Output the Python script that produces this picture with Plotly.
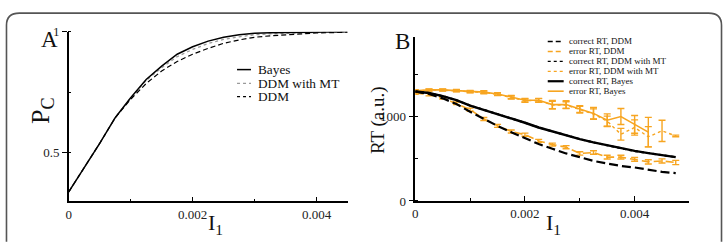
import plotly.graph_objects as go

W, H = 725, 244
FONT = "Liberation Serif"
ORANGE = "#F7A520"

# ---------------- Panel A data ----------------
a_x = [0, 0.00025, 0.0005, 0.00075, 0.001, 0.00125, 0.0015, 0.00175, 0.002, 0.00225,
       0.0025, 0.00275, 0.003, 0.00325, 0.0035, 0.00375, 0.004, 0.00425, 0.0045]
a_bayes = [0.339, 0.437, 0.539, 0.645, 0.727, 0.803, 0.858, 0.907, 0.938, 0.961,
           0.977, 0.987, 0.994, 0.996, 0.997, 0.998, 0.999, 1.000, 1.000]
a_ddm_mt = [0.339, 0.437, 0.539, 0.645, 0.726, 0.799, 0.851, 0.897, 0.927, 0.951,
            0.968, 0.979, 0.987, 0.991, 0.994, 0.996, 0.997, 0.998, 0.999]
a_ddm = [0.339, 0.437, 0.539, 0.645, 0.721, 0.786, 0.838, 0.877, 0.907, 0.931,
         0.952, 0.966, 0.977, 0.983, 0.988, 0.992, 0.995, 0.996, 0.998]
a_names = ["Bayes", "DDM with MT", "DDM"]

# ---------------- Panel B data ----------------
b_x = [0, 0.00025, 0.0005, 0.00075, 0.001, 0.00125, 0.0015, 0.00175, 0.002, 0.00225,
       0.0025, 0.00275, 0.003, 0.00325, 0.0035, 0.00375, 0.004, 0.00425, 0.0045, 0.00475]
b_correct_ddm = [1296, 1267, 1215, 1148, 1056, 970, 889, 815, 741, 674,
                 619, 563, 519, 474, 444, 415, 397, 367, 344, 330]
b_error_ddm = [1278, 1259, 1222, 1156, 1081, 970, 889, 822, 785, 711,
               667, 637, 563, 574, 519, 519, 493, 463, 474, 456]
b_error_ddm_err = [15, 15, 15, 15, 18, 18, 18, 18, 18, 18,
                   18, 18, 20, 20, 22, 22, 22, 25, 25, 25]
b_correct_ddm_mt = [1296, 1278, 1241, 1193, 1130, 1081, 1030, 981, 926, 870,
                    822, 778, 733, 693, 659, 622, 590, 567, 544, 519]
b_error_ddm_mt = [1300, 1312, 1312, 1305, 1294, 1285, 1262, 1225, 1188, 1190,
                  1135, 1135, 1080, 1030, 944, 790, 870, 760, 830, 770]
b_error_ddm_mt_err = [12, 12, 12, 12, 12, 15, 15, 18, 20, 22,
                      45, 40, 40, 60, 60, 70, 90, 120, 125, 10]
b_correct_bayes = [1296, 1278, 1241, 1193, 1130, 1081, 1030, 981, 926, 870,
                   822, 778, 733, 693, 659, 622, 593, 567, 544, 519]
b_error_bayes_x = b_x[:18]
b_error_bayes = [1304, 1315, 1315, 1307, 1296, 1289, 1267, 1230, 1193, 1193,
                 1141, 1141, 1089, 1037, 956, 1000, 907, 815]
b_error_bayes_err = [12, 12, 12, 12, 12, 15, 15, 18, 20, 22,
                     50, 45, 40, 70, 75, 95, 105, 175]
b_names = ["correct RT, DDM", "error RT, DDM", "correct RT, DDM with MT",
           "error RT, DDM with MT", "correct RT, Bayes", "error RT, Bayes"]

a_xticks = [0, 0.002, 0.004]
a_xticklabels = ["0", "0.002", "0.004"]
a_yticks = [0.5, 1]
a_yticklabels = ["0.5", "1"]
b_yticks = [0, 1000]
b_yticklabels = ["0", "1000"]


def px(p):
    return p / W


def py(p):
    return 1 - p / H


fig = go.Figure()

# Panel A traces
fig.add_trace(go.Scatter(x=a_x, y=a_ddm_mt, mode="lines", name=a_names[1],
                         line=dict(color="#9a9a9a", width=1.3, dash="dot"),
                         xaxis="x", yaxis="y"))
fig.add_trace(go.Scatter(x=a_x, y=a_ddm, mode="lines", name=a_names[2],
                         line=dict(color="black", width=1.2, dash="5px,3px"),
                         xaxis="x", yaxis="y"))
fig.add_trace(go.Scatter(x=a_x, y=a_bayes, mode="lines", name=a_names[0],
                         line=dict(color="black", width=1.5),
                         xaxis="x", yaxis="y"))

# Panel B traces
eb = dict(type="data", thickness=1.4, width=3.5, color=ORANGE)
fig.add_trace(go.Scatter(x=b_x, y=b_error_ddm_mt, mode="lines", name=b_names[3],
                         line=dict(color=ORANGE, width=1.4, dash="dot"),
                         error_y=dict(array=b_error_ddm_mt_err, **eb),
                         xaxis="x2", yaxis="y2"))
fig.add_trace(go.Scatter(x=b_error_bayes_x, y=b_error_bayes, mode="lines", name=b_names[5],
                         line=dict(color=ORANGE, width=1.6),
                         error_y=dict(array=b_error_bayes_err, **eb),
                         xaxis="x2", yaxis="y2"))
fig.add_trace(go.Scatter(x=b_x, y=b_error_ddm, mode="lines", name=b_names[1],
                         line=dict(color=ORANGE, width=1.6, dash="8px,4px"),
                         error_y=dict(array=b_error_ddm_err, **eb),
                         xaxis="x2", yaxis="y2"))
fig.add_trace(go.Scatter(x=b_x, y=b_correct_ddm, mode="lines", name=b_names[0],
                         line=dict(color="black", width=2.2, dash="9px,4px"),
                         xaxis="x2", yaxis="y2"))
fig.add_trace(go.Scatter(x=b_x, y=b_correct_ddm_mt, mode="lines", name=b_names[2],
                         line=dict(color="black", width=2.0, dash="dot"),
                         xaxis="x2", yaxis="y2"))
fig.add_trace(go.Scatter(x=b_x, y=b_correct_bayes, mode="lines", name=b_names[4],
                         line=dict(color="black", width=2.4),
                         xaxis="x2", yaxis="y2"))

tickfont = dict(family=FONT, size=13, color="#222")
common_x = dict(showgrid=False, zeroline=False, showline=True, linecolor="black",
                linewidth=1.5, ticks="inside", ticklen=5, tickwidth=1.2,
                tickcolor="black", tickfont=tickfont,
                minor=dict(ticks="inside", ticklen=3, tickwidth=1.2, dtick=0.001,
                           tickcolor="black"))
common_y = dict(showgrid=False, zeroline=False, showline=True, linecolor="black",
                linewidth=1.5, ticks="outside", ticklen=5, tickwidth=1.2,
                tickcolor="black", tickfont=tickfont)

fig.update_layout(
    width=W, height=H, margin=dict(l=0, r=0, t=0, b=0),
    paper_bgcolor="white", plot_bgcolor="white", showlegend=False,
    xaxis=dict(domain=[px(66), px(346)], range=[0, 0.0045], anchor="y",
               tickmode="array", tickvals=a_xticks, ticktext=a_xticklabels, **common_x),
    yaxis=dict(domain=[py(207), py(26.3)], range=[0.3, 1.0], anchor="x",
               tickmode="array", tickvals=a_yticks, ticktext=a_yticklabels,
               minor=dict(ticks="inside", ticklen=3, tickwidth=1.2, dtick=0.25,
                          tick0=0, tickcolor="black"), **common_y),
    xaxis2=dict(domain=[px(414), px(689.3)], range=[0, 0.005], anchor="y2",
                tickmode="array", tickvals=a_xticks, ticktext=a_xticklabels, **common_x),
    yaxis2=dict(domain=[py(206.7), py(31.7)], range=[0, 1944], anchor="x2",
                tickmode="array", tickvals=b_yticks, ticktext=b_yticklabels,
                minor=dict(ticks="inside", ticklen=3, tickwidth=1.2, dtick=500,
                           tick0=0, tickcolor="black"), **common_y),
)

annotations = []
shapes = []


def label(text, x, y, size, angle=0, xanchor="center"):
    annotations.append(dict(text=text, x=px(x), y=py(y), xref="paper", yref="paper",
                            showarrow=False, textangle=angle, xanchor=xanchor,
                            yanchor="middle", borderpad=0,
                            font=dict(family=FONT, size=size, color="#111")))


label("A", 46.5, 35, 23)
label("B", 401, 37, 23)
label("P<sub>C</sub>", 39, 110, 26, angle=-90)
label("RT (a.u.)", 376, 120, 19, angle=-90)
label("I<sub>1</sub>", 213, 231, 22)
label("I<sub>1</sub>", 553, 231, 22)

# legend A
a_styles = [("black", None, 1.5), ("#9a9a9a", "dot", 1.3), ("black", "3px,3px", 1.3)]
a_rows = [66.7, 81.3, 95.5]
for name, (c, d, w), yy in zip(a_names, a_styles, a_rows):
    shapes.append(dict(type="line", xref="paper", yref="paper", x0=px(235), x1=px(249),
                       y0=py(yy), y1=py(yy), line=dict(color=c, width=w, dash=d or "solid")))
    label(name, 255, yy, 13.3, xanchor="left")

# legend B
b_styles = [("black", "5px,3px", 1.5), (ORANGE, "5px,3px", 1.5), ("black", "dot", 1.2),
            (ORANGE, "dot", 1.2), ("black", None, 2.2), (ORANGE, None, 1.6)]
b_rows = [36.7, 47.3, 57.9, 68.5, 79.1, 89.7]
for name, (c, d, w), yy in zip(b_names, b_styles, b_rows):
    shapes.append(dict(type="line", xref="paper", yref="paper", x0=px(547), x1=px(563),
                       y0=py(yy), y1=py(yy), line=dict(color=c, width=w, dash=d or "solid")))
    label(name, 567, yy, 9, xanchor="left")

# rounded frame
L, T, R, B, r = 3.5, 6.5, 721.5, 250, 13
path = (f"M {px(L)},{py(B)} L {px(L)},{py(T + r)} Q {px(L)},{py(T)} {px(L + r)},{py(T)} "
        f"L {px(R - r)},{py(T)} Q {px(R)},{py(T)} {px(R)},{py(T + r)} L {px(R)},{py(B)}")
shapes.append(dict(type="path", xref="paper", yref="paper", path=path,
                   line=dict(color="#555", width=1.6)))

fig.update_layout(annotations=annotations, shapes=shapes)
fig.write_html("out.html")
